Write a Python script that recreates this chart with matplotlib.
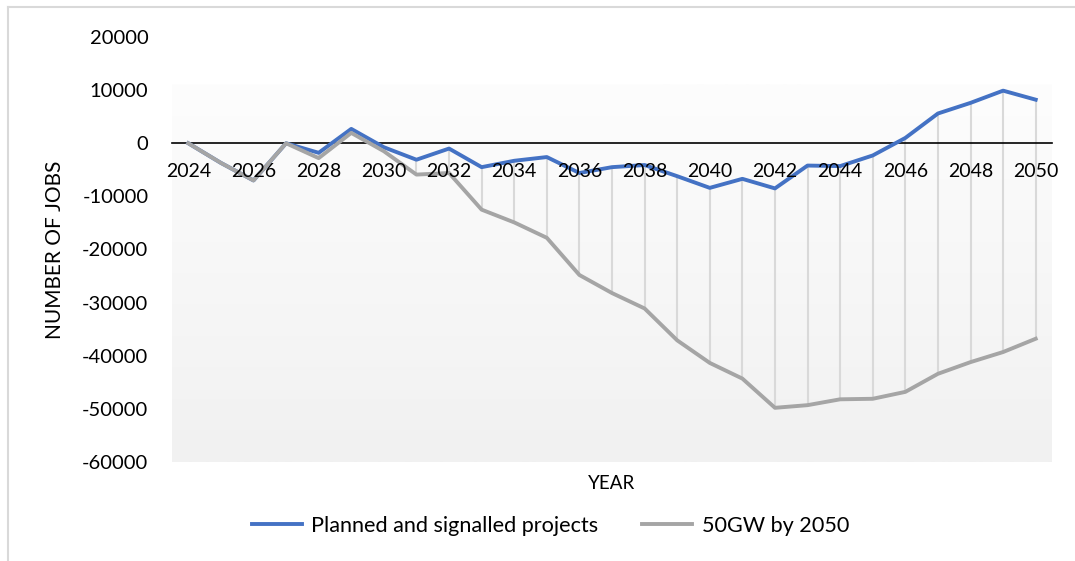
import numpy as np
import matplotlib
matplotlib.use('Agg')
from matplotlib import pyplot as plt
from matplotlib.lines import Line2D

plt.rcParams['font.family'] = ['Lato', 'DejaVu Sans']
plt.rcParams['axes.unicode_minus'] = False

years = [str(y) for y in range(2024, 2051)]
planned = [0, -3700, -7000, 0, -1800, 2700, -750, -3100, -1000, -4500, -3300, -2600,
           -5600, -4500, -4100, -6200, -8400, -6700, -8500, -4200, -4300, -2300,
           1000, 5600, 7600, 9900, 8200]
gw50 = [0, -3700, -7000, 0, -2800, 1950, -1500, -5900, -5600, -12500, -14900, -17800,
        -24800, -28200, -31100, -37100, -41350, -44300, -49800, -49300, -48200, -48100,
        -46800, -43400, -41200, -39300, -36800]
yticks = [20000, 10000, 0, -10000, -20000, -30000, -40000, -50000, -60000]

fig = plt.figure(figsize=(10.75, 5.61), dpi=100)
ax = fig.add_axes([172/1075, 1-462/561, 880/1075, 425/561])

x = np.arange(len(years))

# plot area gradient, light at top, grey at bottom
grad = np.linspace(0, 1, 256).reshape(-1, 1)
cmap = matplotlib.colors.LinearSegmentedColormap.from_list('g', ['#fdfdfd', '#f1f1f1'])
ax.imshow(grad, cmap=cmap, aspect='auto', extent=(-0.5, len(years)-0.5, -60000, 11000),
          origin='upper', zorder=0)

# high-low lines
lo = np.minimum(planned, gw50)
hi = np.maximum(planned, gw50)
ax.vlines(x, lo, hi, color='#d9d9d9', lw=1.5, zorder=1)

ax.plot(x, planned, color='#4472C4', lw=2.8, label='Planned and signalled projects', zorder=2.2,
        solid_joinstyle='round')
ax.plot(x, gw50, color='#A5A5A5', lw=2.8, label='50GW by 2050', zorder=2.3,
        solid_joinstyle='round')

ax.set_xlim(-0.5, len(years)-0.5)
ax.set_ylim(-60000, 20000)
ax.set_yticks(yticks)
ax.yaxis.set_major_formatter(matplotlib.ticker.StrMethodFormatter('{x:.0f}'))
ax.tick_params(axis='y', length=0, pad=17, labelsize=14.5)

ax.set_xticks(x[::2])
ax.set_xticklabels(years[::2])
ax.tick_params(axis='x', length=0, pad=14, labelsize=14)
ax.xaxis.set_zorder(3)

for s in ['top', 'right', 'left']:
    ax.spines[s].set_visible(False)
ax.spines['bottom'].set_position(('data', 0))
ax.spines['bottom'].set_color('black')
ax.spines['bottom'].set_linewidth(1.2)
ax.spines['bottom'].set_zorder(2)

ax.set_xlabel('YEAR', fontsize=13.5)
ax.xaxis.set_label_coords(0.5, -0.03)
ax.set_ylabel('NUMBER OF JOBS', fontsize=15)
ax.yaxis.set_label_coords(-0.122, 0.5)

fig.legend(loc='center', bbox_to_anchor=(0.512, 1-526/561), ncol=2, frameon=False,
           fontsize=15.6, handlelength=2.3, handletextpad=0.45, columnspacing=2.0)

# chart border (cut off at right and bottom)
fig.add_artist(Line2D([7.5/1075, 7.5/1075], [0, 1-7/561], color='#d9d9d9', lw=1.5,
                      transform=fig.transFigure))
fig.add_artist(Line2D([7.5/1075, 1], [1-7/561, 1-7/561], color='#d9d9d9', lw=1.5,
                      transform=fig.transFigure))

fig.savefig('out.png', dpi=100)
